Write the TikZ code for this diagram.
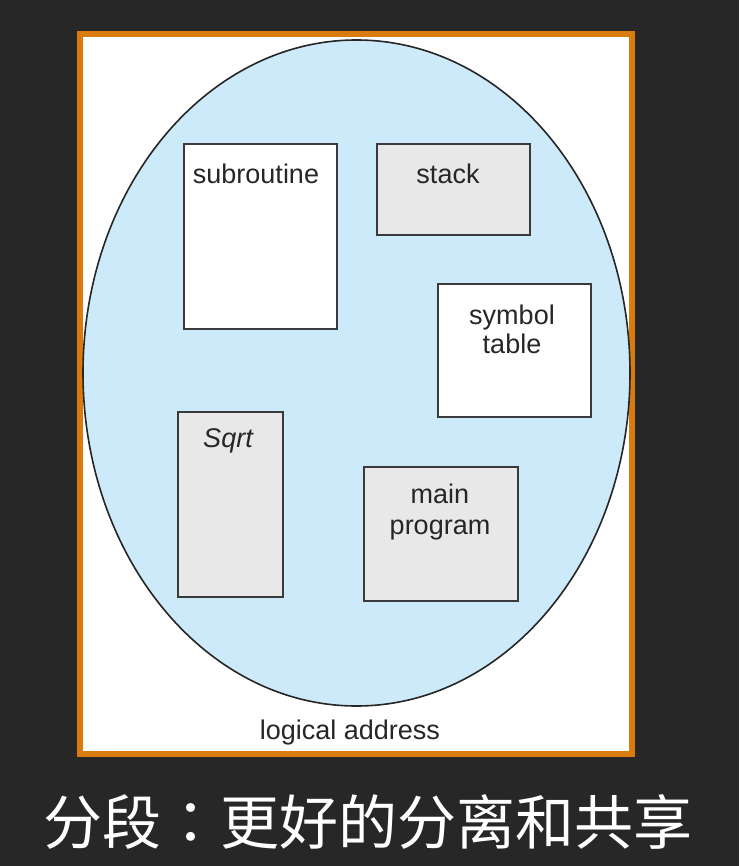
\documentclass[tikz,border=0pt]{standalone}
\usepackage{fontspec}
\setmainfont{Liberation Sans}
\newfontfamily\cjk{Noto Sans CJK SC}
\newfontfamily\cjktc{Noto Sans CJK TC}
\definecolor{board}{HTML}{272727}
\definecolor{frameor}{HTML}{D97B0F}
\definecolor{segblue}{HTML}{CDEAFA}
\definecolor{seggray}{HTML}{E8E8E8}
\definecolor{segline}{HTML}{3A3A3A}
\begin{document}
\begin{tikzpicture}[x=1pt,y=-1pt,
  seg/.style={draw=segline,line width=1.6pt},
  lbl/.style={font=\fontsize{27}{30}\selectfont,text=black!85,align=center,inner sep=0pt}]
\useasboundingbox (0,0) rectangle (739,866);
\fill[board] (0,0) rectangle (739,866);
\draw[frameor,line width=6pt,fill=white] (79.5,34) rectangle (632,754);
\draw[black!85,line width=1.6pt,fill=segblue] (356.5,373) ellipse [x radius=273.5,y radius=333];
% segments
\draw[seg,fill=white] (184,144) rectangle (337,329);
\node[lbl] (sub) at (256,174) {subroutine};
\draw[seg,fill=seggray] (377,144) rectangle (530,235);
\node[lbl] (stk) at (448,174) {stack};
\draw[seg,fill=white] (438,284) rectangle (591,417);
\node[lbl,font=\fontsize{27}{29}\selectfont] (sym) at (512,329) {symbol\\table};
\draw[seg,fill=seggray] (178,412) rectangle (283,597);
\node[lbl,font=\fontsize{27}{30}\selectfont\itshape] (sq) at (228,441) {Sqrt};
\draw[seg,fill=seggray] (364,467) rectangle (518,601);
\node[lbl,font=\fontsize{27}{31}\selectfont] (mp) at (440,512) {main\\program};
\node[lbl] (la) at (350,733) {logical address};
\node[text=white,inner sep=0pt,font=\cjk\fontsize{59}{62}\selectfont] (title) at (368,822) {分段{\cjktc ：}更好的分离和共享};
\end{tikzpicture}
\end{document}
